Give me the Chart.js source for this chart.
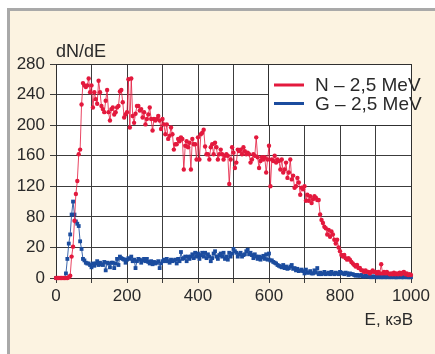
<!DOCTYPE html>
<html><head><meta charset="utf-8">
<script src="https://cdn.jsdelivr.net/npm/chart.js@4/dist/chart.umd.min.js"></script>
<style>html,body{margin:0;padding:0;background:#fff;}canvas{display:block}</style>
</head><body>
<canvas id="c" width="435" height="354"></canvas>
<script>
// ---- data ----
const energyStepKeV = 4; // spectrum bin width (keV), bins start at 0
const seriesNames = ['N – 2,5 MeV', 'G – 2,5 MeV'];
const nValues = [
  0,0,0,0,0,0,0,0,0,1,
  3,28,41,75,110,127,162,168,227,255,
  252,250,252,261,243,252,223,243,234,228,
  258,243,225,221,217,232,246,217,206,221,
  223,214,217,223,225,244,246,230,210,214,
  217,260,197,261,212,203,215,225,225,219,
  221,210,217,201,208,214,223,208,193,208,
  206,208,212,206,195,208,201,188,201,182,
  186,197,188,168,175,175,182,179,184,182,
  142,173,179,171,177,142,182,175,175,155,
  184,155,188,190,194,172,162,162,155,171,
  175,162,177,171,155,162,168,162,155,160,
  162,160,123,155,171,164,144,151,168,166,
  168,162,171,166,162,164,162,151,155,162,
  160,184,158,144,153,158,155,158,138,155,
  173,120,155,153,160,151,155,153,142,155,
  138,142,151,131,138,155,129,134,118,120,
  131,125,109,118,116,120,101,109,101,107,
  98,103,107,105,102,102,83,76,72,67,
  65,57,63,54,61,57,50,45,50,40,
  35,30,28,30,26,24,26,24,21,19,
  17,15,17,13,13,10,10,8,10,8,
  8,6,8,10,8,8,6,8,6,18,
  6,8,6,8,6,5,6,5,7,5,
  6,5,7,5,7,8,5,6,4,5,
  4
];
const gValues = [
  0,0,0,0,0,0,0,6,25,45,
  57,83,100,83,74,71,68,48,38,25,
  23,20,19,19,17,14,19,16,19,22,
  17,20,18,17,21,10,20,19,14,20,
  20,13,19,25,17,28,26,25,24,20,
  24,26,25,28,22,24,13,22,25,24,
  20,23,25,22,25,21,19,22,18,21,
  19,20,22,13,19,22,24,22,25,22,
  20,24,22,23,24,19,25,22,34,25,
  26,28,22,28,25,28,31,26,33,28,
  32,25,30,33,28,33,26,31,28,22,
  26,32,35,28,25,30,32,28,33,25,
  28,24,33,28,32,38,35,33,28,31,
  33,28,30,31,35,37,31,33,30,26,
  31,28,25,28,24,27,29,25,31,24,
  32,23,23,21,20,19,17,16,15,14,
  17,13,15,12,13,15,17,12,13,10,
  12,9,10,11,9,6,11,7,7,9,
  6,6,10,7,13,5,7,5,6,8,
  5,6,7,5,8,6,5,7,6,5,
  8,7,6,5,7,6,4,6,5,5,
  4,3,4,3,3,4,2,2,3,2,
  2,2,1,2,2,1,2,1,2,1,
  1,2,1,1,2,1,1,2,1,1,
  1,1,2,1,1,1,2,1,1,1,
  1
];
const xTickValues = [0, 200, 400, 600, 800, 1000];
const xTickLabels = ['0', '200', '400', '600', '800', '1000'];
const yTickValues = [0, 40, 80, 120, 160, 200, 240, 280];
const yTickLabels = ['0', '20', '80', '120', '160', '200', '240', '280'];
const yAxisTitle = 'dN/dE';
const xAxisTitle = 'E, кэВ';

// ---- style ----
const FONT = "'Liberation Sans Narrow','Arial Narrow','Liberation Sans',Arial,sans-serif";
const RED = '#e3193d';
const BLUE = '#1b4c9e';
const TEXT = '#2a2a2a';
const GRID = '#3c3c3c';
const CREAM = '#fcf3e1';

const energies = nValues.map((_, i) => i * energyStepKeV);
const toPts = vals => vals.map((v, i) => ({ x: energies[i], y: v }));

const backgroundPlugin = {
  id: 'bg',
  beforeDraw(chart) {
    const ctx = chart.ctx, a = chart.chartArea;
    ctx.save();
    ctx.fillStyle = '#ffffff';
    ctx.fillRect(0, 0, chart.width, chart.height);
    ctx.fillStyle = CREAM;
    ctx.fillRect(8, 8, chart.width - 8, chart.height - 8);
    ctx.fillStyle = '#a9a9a9';
    ctx.fillRect(7, 8, chart.width - 7, 3);
    ctx.fillRect(7, 8, 3, chart.height - 8);
    ctx.fillStyle = '#ffffff';
    ctx.fillRect(a.left, a.top, a.right - a.left, a.bottom - a.top);
    ctx.restore();
  }
};

const framePlugin = {
  id: 'frame',
  beforeDatasetsDraw(chart) {
    const ctx = chart.ctx, a = chart.chartArea;
    ctx.save();
    // legend box
    const lx = 268, ly = Math.round(a.top), lr = Math.round(a.right), lb = 125;
    ctx.fillStyle = '#ffffff';
    ctx.fillRect(lx, ly, lr - lx, lb - ly);
    ctx.strokeStyle = '#303030';
    ctx.lineWidth = 1;
    ctx.strokeRect(lx + 0.5, ly + 0.5, lr - lx, lb - ly);
    // plot frame
    ctx.strokeRect(Math.round(a.left) + 0.5, Math.round(a.top) + 0.5,
      Math.round(a.right) - Math.round(a.left), Math.round(a.bottom) - Math.round(a.top));
    // legend entries
    const colors = [RED, BLUE];
    const ys = [85, 103.5];
    ctx.lineWidth = 3;
    ctx.font = "19px " + FONT;
    ctx.textBaseline = 'middle';
    ctx.textAlign = 'left';
    for (let i = 0; i < 2; i++) {
      ctx.strokeStyle = colors[i];
      ctx.beginPath();
      ctx.moveTo(274, ys[i]);
      ctx.lineTo(304, ys[i]);
      ctx.stroke();
      ctx.fillStyle = TEXT;
      ctx.fillText(seriesNames[i], 315, ys[i] + 1);
    }
    // axis titles
    ctx.font = "18px " + FONT;
    ctx.textBaseline = 'alphabetic';
    ctx.fillText(yAxisTitle, 56, 57);
    ctx.textAlign = 'right';
    ctx.font = "17px " + FONT;
    ctx.fillText(xAxisTitle, 413, 325);
    ctx.restore();
  }
};

Chart.defaults.font.family = FONT;

new Chart(document.getElementById('c'), {
  type: 'line',
  data: {
    datasets: [
      {
        label: seriesNames[0], data: toPts(nValues),
        borderColor: 'rgba(227,25,61,0.8)', borderWidth: 1,
        pointRadius: 2.2, pointStyle: 'circle',
        pointBackgroundColor: RED, pointBorderWidth: 0,
        tension: 0, clip: 5
      },
      {
        label: seriesNames[1], data: toPts(gValues),
        borderColor: 'rgba(27,76,158,0.85)', borderWidth: 1,
        pointRadius: 2.7, pointStyle: 'rect',
        pointBackgroundColor: BLUE, pointBorderWidth: 0,
        tension: 0, clip: 5
      }
    ]
  },
  options: {
    responsive: false,
    animation: false,
    events: [],
    layout: { padding: { left: 0, top: 64, right: 24, bottom: 0 } },
    plugins: { legend: { display: false }, tooltip: { enabled: false }, title: { display: false } },
    scales: {
      x: {
        type: 'linear', min: 0, max: 1000,
        afterFit(s) { s.height = 76; },
        afterBuildTicks(s) { s.ticks = [0,100,200,300,400,500,600,700,800,900,1000].map(v => ({ value: v })); },
        ticks: {
          autoSkip: false, maxRotation: 0, padding: 3,
          color: TEXT, font: { size: 17, family: FONT },
          callback(v) { const k = xTickValues.indexOf(v); return k >= 0 ? xTickLabels[k] : ''; }
        },
        grid: { color: GRID, lineWidth: 1, tickLength: 5, drawTicks: true, tickColor: GRID },
        border: { display: false }
      },
      y: {
        type: 'linear', min: 0, max: 280,
        afterFit(s) { s.width = 56; },
        afterBuildTicks(s) { s.ticks = yTickValues.map(v => ({ value: v })); },
        ticks: {
          autoSkip: false, padding: 5,
          color: TEXT, font: { size: 17, family: FONT },
          callback(v) { const k = yTickValues.indexOf(v); return k >= 0 ? yTickLabels[k] : ''; }
        },
        grid: { color: GRID, lineWidth: 1, tickLength: 6, drawTicks: true, tickColor: GRID },
        border: { display: false }
      }
    }
  },
  plugins: [backgroundPlugin, framePlugin]
});
</script>
</body></html>
